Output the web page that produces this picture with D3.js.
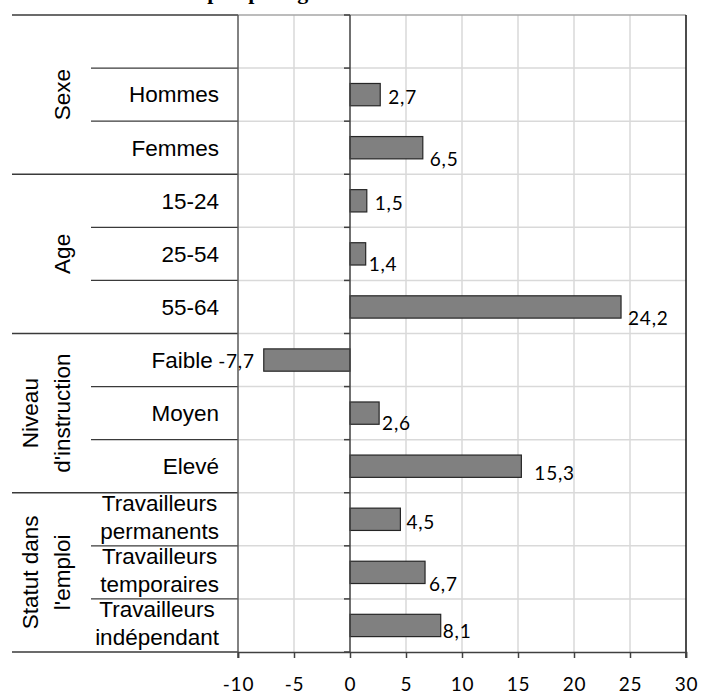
<!DOCTYPE html>
<html><head><meta charset="utf-8">
<script src="https://cdn.jsdelivr.net/npm/d3@7"></script>
<style>
html,body{margin:0;padding:0;background:#fff;}
svg{display:block;}
</style></head>
<body>
<script>
// ---- data ----
const titleText = "Variation de l'emploi par âge";
const categories = ["", "Hommes", "Femmes", "15-24", "25-54", "55-64", "Faible ", "Moyen", "Elevé",
  "Travailleurs\npermanents", "Travailleurs\ntemporaires", "Travailleurs\nindépendant"];
const values = [null, 2.7, 6.5, 1.5, 1.4, 24.2, -7.7, 2.6, 15.3, 4.5, 6.7, 8.1];
const groupNames = ["Sexe", "Age", "Niveau\nd'instruction", "Statut dans\nl'emploi"];
const groupSizes = [3, 3, 3, 3];
const xTicks = [-10, -5, 0, 5, 10, 15, 20, 25, 30];
// label placement nudges (px): [gap from bar end, baseline offset from bar centre]
const labelNudge = [[0,0],[8,9],[7,18],[8,9],[3,17],[7,18],[9,8],[3,17],[13,14],[6,10],[4,19],[2,13]];

// ---- layout ----
const W = 701, H = 693;
const plotL = 238, plotR = 686, plotT = 15, plotB = 652;
const outerL = 12, innerL = 91, catRight = 219;
const catFont = "'Liberation Sans', Arial, sans-serif";
const catSize = 22.5;
const numFont = "Lato, 'Open Sans', sans-serif";

const svg = d3.select("body").append("svg").attr("width", W).attr("height", H);

const x = d3.scaleLinear().domain([-10, 30]).range([plotL, plotR]);
const y = d3.scaleBand().domain(d3.range(categories.length)).range([plotT, plotB]).padding(0);
const bw = y.bandwidth();
const barH = bw * 0.42;
const fmt = d3.formatLocale({decimal: ",", thousands: " ", grouping: [3], currency: ["", ""], minus: "-"}).format(".1f");
const tickFmt = d => String(d);

// title (cut off at top, as in the source image)
svg.append("text").attr("x", 318).attr("y", -1).attr("text-anchor", "end")
  .attr("font-family", "'Liberation Serif', 'Times New Roman', serif").attr("font-weight", "bold")
  .attr("font-size", 22).text(titleText);

// vertical gridlines
svg.append("g").selectAll("line").data(xTicks.filter(t => t !== -10 && t !== 0 && t !== 30)).join("line")
  .attr("x1", d => x(d)).attr("x2", d => x(d)).attr("y1", plotT).attr("y2", plotB)
  .attr("stroke", "#d9d9d9").attr("stroke-width", 1.5);

// horizontal gridlines at category boundaries
const bounds = d3.range(categories.length + 1).map(i => i < categories.length ? y(i) : plotB);
svg.append("g").selectAll("line").data(bounds.slice(1, -1)).join("line")
  .attr("x1", plotL).attr("x2", plotR).attr("y1", d => d).attr("y2", d => d)
  .attr("stroke", "#d9d9d9").attr("stroke-width", 1.5);

// top border
svg.append("line").attr("x1", plotL).attr("x2", plotR).attr("y1", plotT).attr("y2", plotT)
  .attr("stroke", "#a6a6a6").attr("stroke-width", 1.5);

// group boundaries in label area
let gb = [0];
groupSizes.forEach((s, i) => gb.push(gb[i] + s));
const groupYs = gb.map(i => bounds[i]);
svg.append("g").selectAll("line").data(groupYs).join("line")
  .attr("x1", outerL).attr("x2", plotL).attr("y1", d => d).attr("y2", d => d)
  .attr("stroke", "#3a3a3a").attr("stroke-width", 1.3);
// inner category boundaries
const innerIdx = d3.range(1, categories.length).filter(i => !gb.includes(i));
svg.append("g").selectAll("line").data(innerIdx).join("line")
  .attr("x1", innerL).attr("x2", plotL).attr("y1", i => bounds[i]).attr("y2", i => bounds[i])
  .attr("stroke", "#3a3a3a").attr("stroke-width", 1.3);

// left border (x=-10)
svg.append("line").attr("x1", plotL).attr("x2", plotL).attr("y1", plotT).attr("y2", plotB + 6)
  .attr("stroke", "#595959").attr("stroke-width", 1.5);
// right border
svg.append("line").attr("x1", plotR).attr("x2", plotR).attr("y1", plotT).attr("y2", plotB + 6)
  .attr("stroke", "#111").attr("stroke-width", 1.5);

// bars
svg.append("g").selectAll("rect").data(values.map((v, i) => ({v, i})).filter(d => d.v !== null)).join("rect")
  .attr("x", d => x(Math.min(0, d.v))).attr("width", d => Math.abs(x(d.v) - x(0)))
  .attr("y", d => y(d.i) + (bw - barH) / 2).attr("height", barH)
  .attr("fill", "#808080").attr("stroke", "#262626").attr("stroke-width", 1.2);

// zero axis with ticks
svg.append("line").attr("x1", x(0)).attr("x2", x(0)).attr("y1", plotT).attr("y2", plotB)
  .attr("stroke", "#404040").attr("stroke-width", 1.5);
svg.append("g").selectAll("line").data(bounds).join("line")
  .attr("x1", x(0) - 6).attr("x2", x(0)).attr("y1", d => d).attr("y2", d => d)
  .attr("stroke", "#404040").attr("stroke-width", 1.5);

// bottom axis
const xAxis = d3.axisBottom(x).tickValues(xTicks).tickSize(6).tickPadding(0).tickFormat(tickFmt);
const gx = svg.append("g").attr("transform", `translate(0,${plotB})`).call(xAxis);
gx.select(".domain").attr("stroke", "#404040").attr("stroke-width", 1.5);
gx.selectAll(".tick line").attr("stroke", "#404040").attr("stroke-width", 1.5);
gx.selectAll(".tick text").attr("font-family", numFont).attr("font-size", 19)
  .attr("letter-spacing", "0.8px").attr("fill", "#000").attr("y", 691 - plotB).attr("dy", 0);

// value labels
svg.append("g").selectAll("text").data(values.map((v, i) => ({v, i})).filter(d => d.v !== null)).join("text")
  .attr("x", d => d.v >= 0 ? x(d.v) + labelNudge[d.i][0] : x(d.v) - labelNudge[d.i][0])
  .attr("y", d => y(d.i) + bw / 2 + labelNudge[d.i][1])
  .attr("text-anchor", d => d.v >= 0 ? "start" : "end")
  .attr("font-family", numFont).attr("font-size", 19).attr("letter-spacing", "0.8px")
  .attr("fill", "#000").text(d => fmt(d.v));

// category labels
const catG = svg.append("g").attr("font-family", catFont).attr("font-size", catSize).attr("fill", "#000");
categories.forEach((c, i) => {
  const lines = c.split("\n");
  const cy = y(i) + bw / 2;
  if (lines.length === 1) {
    catG.append("text").attr("x", catRight).attr("y", cy + 7.8).attr("text-anchor", "end")
      .style("white-space", "pre").text(c);
  } else {
    const ts = lines.map((l, k) => catG.append("text").attr("y", cy - 8.5 + k * 28).text(l));
    const maxW = d3.max(ts, t => t.node().getComputedTextLength());
    ts.forEach(t => t.attr("x", catRight - maxW / 2).attr("text-anchor", "middle"));
  }
});

// group labels (rotated)
const grpG = svg.append("g").attr("font-family", catFont).attr("font-size", catSize).attr("fill", "#000");
groupNames.forEach((g, i) => {
  const cy = (groupYs[i] + groupYs[i + 1]) / 2;
  const lines = g.split("\n");
  lines.forEach((l, k) => {
    const bx = 70 - (lines.length - 1 - k) * 32;
    grpG.append("text").attr("transform", `translate(${bx},${cy}) rotate(-90)`)
      .attr("text-anchor", "middle").text(l);
  });
});
</script>
</body></html>
